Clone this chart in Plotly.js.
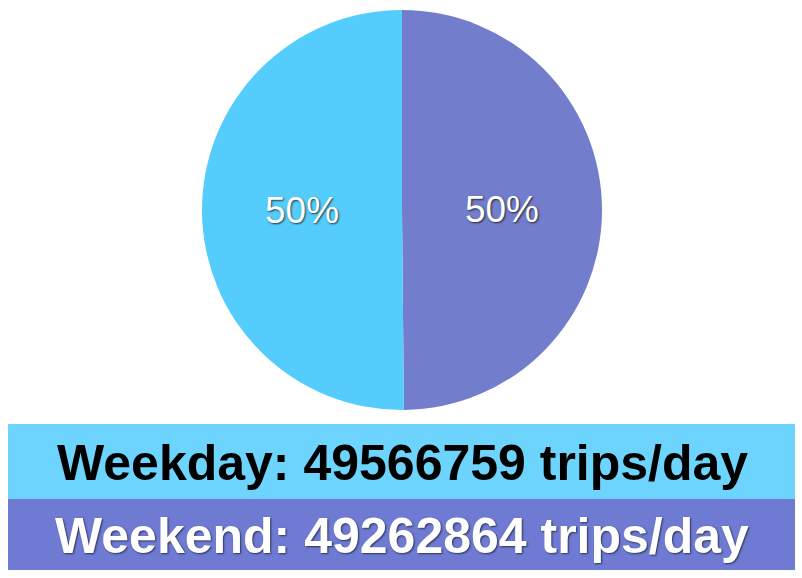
<!DOCTYPE html>
<html><head><meta charset="utf-8">
<script src="https://cdn.plot.ly/plotly-3.0.1.min.js"></script>
<style>html,body{margin:0;padding:0;background:#fff;}#chart{width:802px;height:578px;}</style>
</head><body><div id="chart"></div>
<script>
const categories = ['Weekday', 'Weekend'];
const tripsPerDay = [49566759, 49262864];
const sliceColors = ['#55CDFC', '#727DCB'];
const bannerColors = ['#6DD5FD', '#6F7BD3'];
const bannerTextColors = ['#000000', '#ffffff'];

const W = 802, H = 578;
const px = x => x / W, py = y => 1 - y / H;

// Weekend is drawn first, clockwise from 12 o'clock, so Weekday fills the left side.
const trace = {
  type: 'pie',
  labels: categories.slice().reverse(),
  values: tripsPerDay.slice().reverse(),
  sort: false,
  direction: 'clockwise',
  marker: {colors: sliceColors.slice().reverse(), line: {width: 0}},
  texttemplate: '%{percent:.0%}',
  textposition: 'inside',
  insidetextorientation: 'horizontal',
  textfont: {family: 'Liberation Sans, Arial, sans-serif', size: 37, color: '#ffffff', shadow: '1px 1px 2px rgba(0,0,0,0.7)'},
  hoverinfo: 'label+value+percent',
  showlegend: false,
  domain: {x: [px(202), px(602)], y: [py(410), py(10)]}
};

const bands = [[424, 499], [499, 570]];
const shapes = bands.map((b, i) => ({
  type: 'rect', xref: 'paper', yref: 'paper', layer: 'below',
  x0: px(8), x1: px(795), y0: py(b[1]), y1: py(b[0]),
  fillcolor: bannerColors[i], line: {width: 0}
}));
const annotations = bands.map((b, i) => ({
  xref: 'paper', yref: 'paper', x: px(402), y: py((b[0] + b[1]) / 2 + 1),
  xanchor: 'center', yanchor: 'middle', showarrow: false,
  text: '<b>' + categories[i] + ': ' + tripsPerDay[i] + ' trips/day</b>',
  font: {family: 'Liberation Sans, Arial, sans-serif', size: 50, color: bannerTextColors[i],
         shadow: i === 1 ? '1px 1px 2px rgba(0,0,0,0.6)' : 'none'}
}));

Plotly.newPlot('chart', [trace], {
  width: W, height: H,
  margin: {l: 0, r: 0, t: 0, b: 0},
  paper_bgcolor: '#ffffff',
  shapes: shapes,
  annotations: annotations
}, {displayModeBar: false});
</script></body></html>
